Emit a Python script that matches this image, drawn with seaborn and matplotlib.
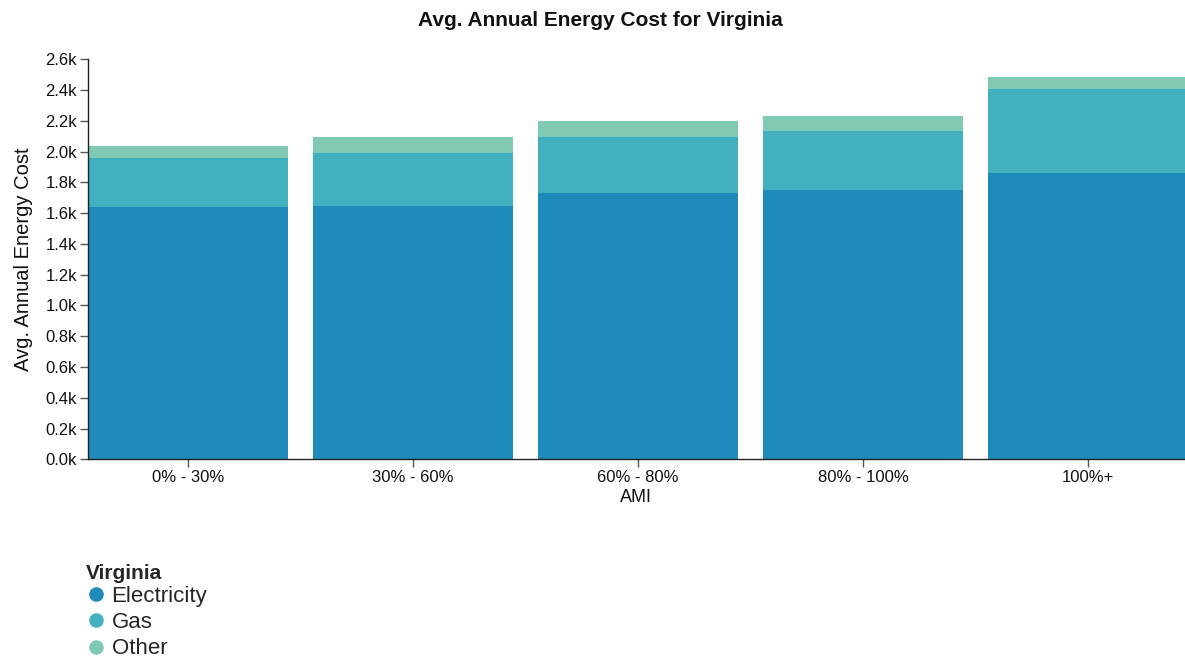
import matplotlib
matplotlib.use("Agg")
import matplotlib.pyplot as plt
from matplotlib.lines import Line2D
from matplotlib.ticker import FuncFormatter, MultipleLocator
import seaborn as sns
import pandas as pd

categories = ["0% - 30%", "30% - 60%", "60% - 80%", "80% - 100%", "100%+"]
electricity = [1642, 1648, 1729, 1750, 1859]
gas = [315, 341, 364, 386, 546]
other = [80, 108, 106, 95, 82]
series_names = ["Electricity", "Gas", "Other"]
colors = ["#1e8bbb", "#42b0bf", "#80c9b5"]

sns.set_theme(style="white")
plt.rcParams["font.family"] = ["Liberation Sans", "DejaVu Sans"]

df = pd.DataFrame({"AMI": categories, "Electricity": electricity, "Gas": gas, "Other": other})
df["lvl_gas"] = df["Electricity"] + df["Gas"]
df["lvl_other"] = df["lvl_gas"] + df["Other"]

W, H = 1185, 660
fig = plt.figure(figsize=(W / 100, H / 100), dpi=100)
ax_left, ax_bottom_px, ax_top_px = 88, 459.3, 59.3
ax = fig.add_axes([ax_left / W, (H - ax_bottom_px) / H, (W - ax_left) / W, (ax_bottom_px - ax_top_px) / H])

bw = 200 / 225
for col, c in zip(["lvl_other", "lvl_gas", "Electricity"], [colors[2], colors[1], colors[0]]):
    sns.barplot(data=df, x="AMI", y=col, color=c, width=bw, ax=ax, saturation=1,
                errorbar=None, order=categories, linewidth=0)

ax.set_ylim(0, 2600)
ax.set_xlim(-bw / 2, -bw / 2 + (W - ax_left) / 225)
ax.yaxis.set_major_locator(MultipleLocator(200))
ax.yaxis.set_major_formatter(FuncFormatter(lambda v, p: f"{v/1000:.1f}k"))
for s in ["top", "right"]:
    ax.spines[s].set_visible(False)
for s in ["left", "bottom"]:
    ax.spines[s].set_color("#222222")
    ax.spines[s].set_linewidth(1.0)
ax.tick_params(axis="y", length=6, width=1, color="#555555",
               labelsize=12, labelcolor="#111111", pad=2, left=True)
ax.tick_params(axis="x", length=6, width=1, color="#555555",
               labelsize=12, labelcolor="#111111", pad=2, bottom=True)
ax.set_xlabel("")
ax.set_ylabel("Avg. Annual Energy Cost", fontsize=14.5, color="#111111", labelpad=9)

fig.text(636 / W, 1 - 498 / H, "AMI", ha="center", va="center", fontsize=13, color="#111111")
fig.text(600 / W, 1 - 20 / H, "Avg. Annual Energy Cost for Virginia", ha="center", va="center",
         fontsize=15, fontweight="bold", color="#111111")

handles = [Line2D([0], [0], marker="o", linestyle="", markersize=10.5, markerfacecolor=c,
                  markeredgewidth=0, color=c) for c in colors]
leg = fig.legend(handles, series_names, title="Virginia", loc="upper left",
                 bbox_to_anchor=(86 / W, 1 - 564 / H), frameon=False, fontsize=16,
                 title_fontsize=15, handletextpad=0.25, labelspacing=0.24,
                 borderaxespad=0, handlelength=0.9, borderpad=0)
leg.get_title().set_fontweight("bold")
leg._legend_box.align = "left"
leg._legend_box.sep = 2

fig.savefig("out.png", dpi=100)
